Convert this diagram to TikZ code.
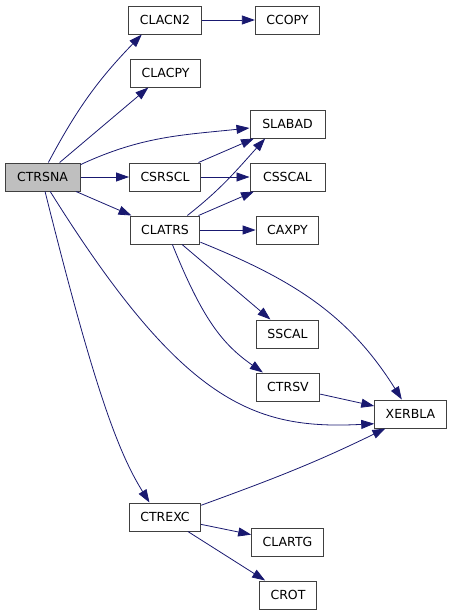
\documentclass[tikz,border=0pt]{standalone}
\usepackage{fontspec}
\setmainfont{DejaVu Sans}
\usepackage{tikz}
\definecolor{edgeblue}{RGB}{25,25,112}
\definecolor{rootgray}{RGB}{191,191,191}
\usetikzlibrary{arrows.meta}
\tikzset{>={Triangle[length=13pt,width=9pt]}}
\tikzset{
  func/.style={draw=black!75, line width=1pt, fill=white, minimum height=28pt,
    inner xsep=11pt, inner ysep=0pt, font=\fontsize{12.5}{14}\selectfont},
  call/.style={->, edgeblue, line width=0.8pt},
}

\begin{document}
\begin{tikzpicture}[x=1pt, y=1pt]
        \useasboundingbox (0,0) rectangle (453,-616);

        % The routine and the routines it calls
        \node[func, fill=rootgray, minimum width=75pt] (ctrsna) at (42.5,-177) {CTRSNA};
        \node[func] (clacn2) at (165,-20) {CLACN2};
        \node[func] (ccopy) at (287.5,-20) {CCOPY};
        \node[func] (clacpy) at (165.5,-73) {CLACPY};
        \node[func, minimum width=75pt] (slabad) at (287.5,-124) {SLABAD};
        \node[func] (csrscl) at (165,-177) {CSRSCL};
        \node[func, minimum width=75pt] (csscal) at (287.5,-177) {CSSCAL};
        \node[func] (clatrs) at (165,-230) {CLATRS};
        \node[func] (caxpy) at (287.5,-230) {CAXPY};
        \node[func] (sscal) at (287.5,-334) {SSCAL};
        \node[func] (ctrsv) at (288,-387) {CTRSV};
        \node[func] (xerbla) at (410.5,-414) {XERBLA};
        \node[func] (ctrexc) at (165,-517) {CTREXC};
        \node[func] (clartg) at (287.5,-542) {CLARTG};
        \node[func] (crot) at (288,-595) {CROT};

        % Calls made by CTRSNA
        \draw[call] (ctrsna.68) to[out=62,in=226] (clacn2.212);
        \draw[call] (ctrsna) -- (clacpy);
        \draw[call] (ctrsna.18) to[out=25,in=186] (slabad.186);
        \draw[call] (ctrsna) -- (csrscl);
        \draw[call] (ctrsna) -- (clatrs);
        \draw[call] (ctrsna.-62) .. controls +(-58:250) and +(183:120) .. (xerbla.195);
        \draw[call] (ctrsna.-80) .. controls +(-76:200) and +(122:60) .. (ctrexc.137);

        % Calls one level down
        \draw[call] (clacn2) -- (ccopy);
        \draw[call] (csrscl) -- (slabad);
        \draw[call] (csrscl) -- (csscal);
        \draw[call] (clatrs.33) to[out=38,in=228] (slabad.213);
        \draw[call] (clatrs) -- (csscal);
        \draw[call] (clatrs) -- (caxpy);
        \draw[call] (clatrs) -- (sscal);
        \draw[call] (clatrs.-63) .. controls +(-68:80) and +(145:50) .. (ctrsv.150);
        \draw[call] (clatrs.-19) to[out=-22,in=122] (xerbla.121);
        \draw[call] (ctrsv) -- (xerbla);
        \draw[call] (ctrexc.18) to[out=20,in=206] (xerbla.210);
        \draw[call] (ctrexc) -- (clartg);
        \draw[call] (ctrexc) -- (crot);

    \end{tikzpicture}
\end{document}
